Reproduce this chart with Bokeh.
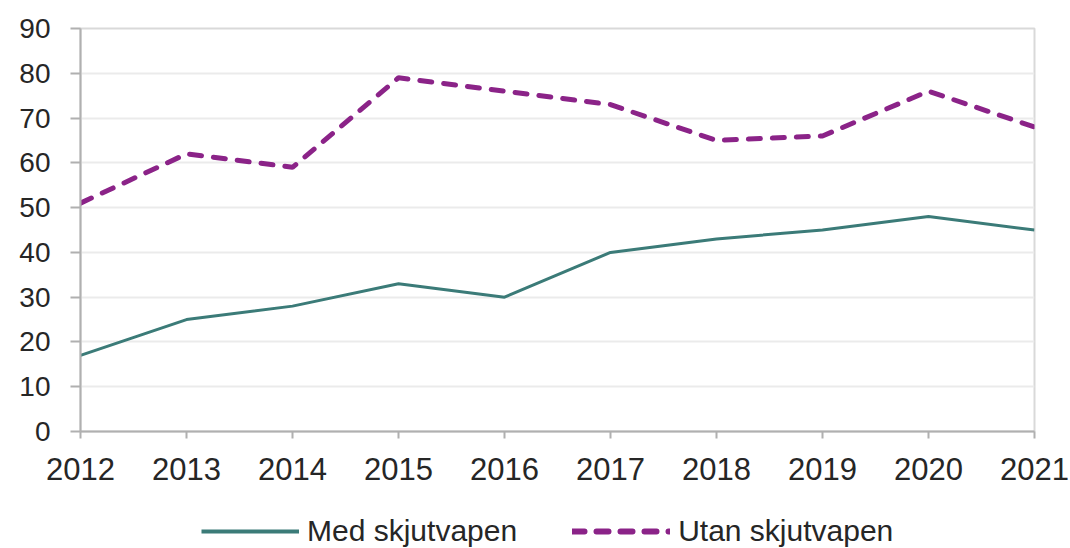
from bokeh.plotting import figure
from bokeh.layouts import column
from bokeh.models import Range1d, Legend, LegendItem, FixedTicker
from bokeh.embed import file_html
from bokeh.resources import INLINE

years = [2012, 2013, 2014, 2015, 2016, 2017, 2018, 2019, 2020, 2021]
med_skjutvapen = [17, 25, 28, 33, 30, 40, 43, 45, 48, 45]
utan_skjutvapen = [51, 62, 59, 79, 76, 73, 65, 66, 76, 68]
y_ticks = [0, 10, 20, 30, 40, 50, 60, 70, 80, 90]
series_names = ["Med skjutvapen", "Utan skjutvapen"]

FONT = "Liberation Sans"
TEAL = "#3b7b78"
PURPLE = "#8b2388"
DASH = "12 12"

p = figure(width=1070, height=512, output_backend="svg", toolbar_location=None,
           x_range=Range1d(2012, 2021), y_range=Range1d(0, 90),
           min_border_left=80, min_border_right=36, min_border_top=28, min_border_bottom=81)
p.background_fill_color = "white"
p.border_fill_color = "white"
p.outline_line_color = "#d9d9d9"
p.outline_line_width = 2

p.line(years, med_skjutvapen, line_color=TEAL, line_width=3)
p.line(years, utan_skjutvapen, line_color=PURPLE, line_width=5, line_dash=DASH, line_cap="round")

p.xaxis.ticker = FixedTicker(ticks=years)
p.yaxis.ticker = FixedTicker(ticks=y_ticks)
for ax in (p.xaxis, p.yaxis):
    ax.axis_line_color = "#b0b0b0"
    ax.axis_line_width = 2
    ax.major_tick_line_color = "#b0b0b0"
    ax.major_tick_line_width = 2
    ax.minor_tick_line_color = None
    ax.major_label_text_font = FONT
    ax.major_label_text_color = "#262626"
    ax.major_tick_in = 0
p.xaxis.major_label_text_font_size = "31px"
p.yaxis.major_label_text_font_size = "28px"
p.xaxis.major_tick_out = 7
p.yaxis.major_tick_out = 10
p.xaxis.major_label_standoff = 19
p.yaxis.major_label_standoff = 20

p.xgrid.grid_line_color = None
p.ygrid.grid_line_color = "#ebebeb"
p.ygrid.grid_line_width = 2

# legend-only strip below the chart (its lines lie outside its own view range)
lg = figure(width=1070, height=36, output_backend="svg", toolbar_location=None,
            x_range=Range1d(0, 1), y_range=Range1d(0, 1),
            min_border_left=0, min_border_right=0, min_border_top=0, min_border_bottom=0)
lg.axis.visible = False
lg.grid.visible = False
lg.outline_line_color = None
lg.background_fill_color = "white"
lg.border_fill_color = "white"
l1 = lg.line(years, med_skjutvapen, line_color=TEAL, line_width=4)
l2 = lg.line(years, utan_skjutvapen, line_color=PURPLE, line_width=6, line_dash=DASH, line_cap="round")

legend = Legend(items=[LegendItem(label=series_names[0], renderers=[l1]),
                       LegendItem(label=series_names[1], renderers=[l2])],
                orientation="horizontal", location=(121, 0))
legend.label_text_font = FONT
legend.label_text_font_size = "30px"
legend.label_text_color = "#262626"
legend.glyph_width = 98
legend.glyph_height = 20
legend.spacing = 55
legend.label_standoff = 8
legend.border_line_color = None
legend.background_fill_alpha = 0
legend.padding = 0
legend.margin = 0
lg.add_layout(legend, "center")

layout = column(p, lg, spacing=0)
open("out.html", "w").write(file_html(layout, INLINE))
